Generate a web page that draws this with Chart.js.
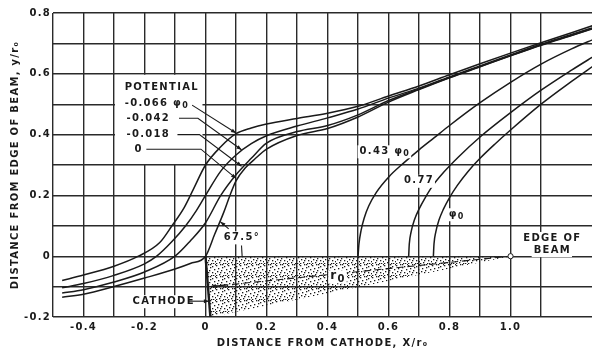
<!DOCTYPE html>
<html lang="en">
<head>
<meta charset="UTF-8">
<title>Equipotentials at the edge of the beam</title>
<script src="https://cdn.jsdelivr.net/npm/chart.js"></script>
<style>
  html, body { margin: 0; padding: 0; background: #fff; }
  canvas { display: block; }
</style>
</head>
<body>
<canvas id="beamChart" width="597" height="352"></canvas>
<script>
// equipotentials left of the cathode (x/r0, y/r0)
const potA_x = [-0.47, -0.4, -0.3, -0.22, -0.15, -0.11, -0.07, -0.04, 0.0, 0.05, 0.1, 0.15, 0.2, 0.3, 0.4, 0.5, 0.6, 0.7, 0.8, 0.9, 1.0, 1.1, 1.2, 1.28];
const potA_y = [-0.08, -0.062, -0.033, 0.0, 0.045, 0.1, 0.16, 0.22, 0.30, 0.36, 0.403, 0.422, 0.435, 0.453, 0.47, 0.493, 0.527, 0.56, 0.597, 0.633, 0.668, 0.702, 0.735, 0.762];

const potB_x = [-0.47, -0.4, -0.3, -0.2, -0.16, -0.11, -0.065, -0.03, 0.0, 0.05, 0.1, 0.15, 0.2, 0.3, 0.4, 0.5, 0.6, 0.7, 0.8, 0.9, 1.0, 1.1, 1.2, 1.28];
const potB_y = [-0.104, -0.09, -0.063, -0.025, 0.0, 0.048, 0.1, 0.15, 0.2, 0.28, 0.333, 0.37, 0.396, 0.428, 0.455, 0.484, 0.52, 0.553, 0.59, 0.626, 0.662, 0.697, 0.729, 0.755];

const potC_x = [-0.47, -0.4, -0.3, -0.2, -0.1, -0.05, 0.0, 0.05, 0.1, 0.15, 0.2, 0.3, 0.4, 0.5, 0.6, 0.7, 0.8, 0.9, 1.0, 1.1, 1.2, 1.28];
const potC_y = [-0.121, -0.11, -0.085, -0.052, 0.0, 0.05, 0.11, 0.2, 0.268, 0.322, 0.372, 0.41, 0.43, 0.465, 0.512, 0.55, 0.588, 0.624, 0.66, 0.695, 0.727, 0.753];

const potD_x = [-0.47, -0.4, -0.3, -0.2, -0.1, -0.05, 0.0, 0.03, 0.06, 0.08, 0.1, 0.13, 0.16, 0.2, 0.3, 0.4, 0.5, 0.6, 0.7, 0.8, 0.9, 1.0, 1.1, 1.2, 1.28];
const potD_y = [-0.135, -0.125, -0.1, -0.072, -0.042, -0.024, 0.0, 0.072, 0.145, 0.2, 0.248, 0.29, 0.318, 0.352, 0.397, 0.42, 0.458, 0.507, 0.548, 0.587, 0.623, 0.659, 0.694, 0.726, 0.752];

// equipotentials inside the beam
const pot043_x = [0.5, 0.503, 0.51, 0.52, 0.535, 0.56, 0.6, 0.65, 0.7, 0.75, 0.8, 0.9, 1.0, 1.1, 1.2, 1.28];
const pot043_y = [0.0, 0.04, 0.085, 0.125, 0.165, 0.21, 0.26, 0.307, 0.35, 0.39, 0.43, 0.505, 0.572, 0.632, 0.682, 0.717];

const pot077_x = [0.666, 0.668, 0.674, 0.685, 0.7, 0.72, 0.745, 0.78, 0.83, 0.9, 1.0, 1.1, 1.2, 1.28];
const pot077_y = [0.0, 0.04, 0.08, 0.12, 0.155, 0.192, 0.232, 0.275, 0.327, 0.392, 0.472, 0.546, 0.612, 0.662];

const pot100_x = [0.747, 0.749, 0.755, 0.765, 0.78, 0.8, 0.825, 0.86, 0.9, 0.95, 1.0, 1.1, 1.2, 1.28];
const pot100_y = [0.0, 0.04, 0.08, 0.118, 0.155, 0.193, 0.232, 0.278, 0.322, 0.37, 0.415, 0.5, 0.575, 0.632];

// cathode, beam radius, shaded beam and beam edge
const cathode_x = [0.0, 0.016];
const cathode_y = [0.0, -0.2];
const radius_x = [0.016, 1.0];
const radius_y = [-0.1, 0.0];
const beam_x = [0.0, 1.0, 0.016, 0.0];
const beam_y = [0.0, 0.0, -0.2, 0.0];
const edge_x = [1.0];
const edge_y = [0.0];

const xTickLabels = ['-0.4', '-0.2', '0', '0.2', '0.4', '0.6', '0.8', '1.0', '1.2'];
const yTickLabels = ['0.8', '0.6', '0.4', '0.2', '0', '-0.2'];

// "_0" marks a subscript zero
const potentialLabels = ['-0.066 φ_0', '-0.042', '-0.018', '0'];
const innerLabels = ['0.43 φ_0', '0.77', 'φ_0'];

const INK = '#1a1a1a';
const GRID = '#2a2a2a';
const FAMILY = '"DejaVu Sans", sans-serif';
const SPACING = '1.3px';

function pts(xs, ys) {
  return xs.map((x, i) => ({ x: x, y: ys[i] }));
}

function curve(xs, ys) {
  return {
    data: pts(xs, ys),
    borderColor: INK,
    borderWidth: 1.5,
    pointRadius: 0,
    cubicInterpolationMode: 'monotone',
    fill: false
  };
}

function tickText(list) {
  return function (value) {
    const hit = list.find(t => Math.abs(parseFloat(t) - value) < 1e-6);
    return hit === undefined ? '' : hit;
  };
}

function keepTenths(scale) {
  scale.ticks = scale.ticks.filter(t => Math.abs(t.value * 10 - Math.round(t.value * 10)) < 1e-6);
}

function makeStipple() {
  const c = document.createElement('canvas');
  c.width = 12;
  c.height = 12;
  const g = c.getContext('2d');
  g.fillStyle = '#1a1a1a';
  const dots = [[0, 1], [4, 0], [8, 2], [11, 0], [2, 4], [6, 3], [10, 5], [1, 7], [5, 6], [8, 8], [11, 9], [3, 10], [7, 11], [0, 11], [9, 11], [4, 8], [6, 0]];
  dots.forEach(d => g.fillRect(d[0], d[1], 1.3, 1.3));
  return g.createPattern(c, 'repeat');
}

// leader lines, in chart units
const leaders = [
  [[-0.044, 0.497], [0.1, 0.405]],
  [[-0.087, 0.454], [-0.025, 0.454], [0.118, 0.35]],
  [[-0.092, 0.40], [-0.02, 0.40], [0.118, 0.296]],
  [[-0.194, 0.352], [-0.015, 0.352], [0.1, 0.256]],
  [[0.076, 0.09], [0.049, 0.113]],
  [[-0.054, -0.148], [0.011, -0.148]],
  [[0.07, -0.094], [0.018, -0.1]]
];
const plainTicks = [
  [[0.118, 0.035], [0.12, 0.0]]
];

const notes = [
  { text: 'POTENTIAL', x: -0.265, y: 0.555 },
  { text: potentialLabels[0], x: -0.265, y: 0.503 },
  { text: potentialLabels[1], x: -0.259, y: 0.454 },
  { text: potentialLabels[2], x: -0.259, y: 0.40 },
  { text: potentialLabels[3], x: -0.233, y: 0.352 },
  { text: innerLabels[0], x: 0.505, y: 0.345, box: true },
  { text: innerLabels[1], x: 0.651, y: 0.248, box: true },
  { text: innerLabels[2], x: 0.797, y: 0.138, box: true },
  { text: '67.5°', x: 0.06, y: 0.062, box: true },
  { text: 'CATHODE', x: -0.239, y: -0.148, box: true },
  { text: 'EDGE OF', x: 1.137, y: 0.06, box: true, center: true },
  { text: 'BEAM', x: 1.137, y: 0.02, box: true, center: true },
  { text: 'r_0', x: 0.409, y: -0.066, box: true, size: 12 }
];

const spacingPlugin = {
  id: 'spacing',
  beforeLayout(chart) { chart.ctx.letterSpacing = SPACING; },
  beforeDraw(chart) { chart.ctx.letterSpacing = SPACING; }
};

function arrowHead(ctx, a, b) {
  const ang = Math.atan2(b[1] - a[1], b[0] - a[0]);
  const len = 5, half = 2;
  ctx.beginPath();
  ctx.moveTo(b[0], b[1]);
  ctx.lineTo(b[0] - len * Math.cos(ang) + half * Math.sin(ang), b[1] - len * Math.sin(ang) - half * Math.cos(ang));
  ctx.lineTo(b[0] - len * Math.cos(ang) - half * Math.sin(ang), b[1] - len * Math.sin(ang) + half * Math.cos(ang));
  ctx.closePath();
  ctx.fill();
}

// text with "_0" style subscripts
function richParts(text) {
  const parts = [];
  text.split('_').forEach((seg, i) => {
    if (i === 0) { parts.push({ s: seg, sub: false }); return; }
    parts.push({ s: seg.charAt(0), sub: true });
    if (seg.length > 1) parts.push({ s: seg.slice(1), sub: false });
  });
  return parts.filter(p => p.s.length);
}

function richWidth(ctx, parts, size) {
  let w = 0;
  parts.forEach(p => {
    ctx.font = 'bold ' + (p.sub ? Math.round(size * 0.8) : size) + 'px ' + FAMILY;
    w += ctx.measureText(p.s).width;
  });
  return w;
}

function drawRich(ctx, parts, x, y, size) {
  let cx = x;
  parts.forEach(p => {
    ctx.font = 'bold ' + (p.sub ? Math.round(size * 0.8) : size) + 'px ' + FAMILY;
    ctx.fillText(p.s, cx, p.sub ? y + size * 0.3 : y);
    cx += ctx.measureText(p.s).width;
  });
}

const notesPlugin = {
  id: 'notes',
  beforeDatasetsDraw(chart) {
    // white panel behind the potential legend
    const { ctx, scales: { x, y } } = chart;
    ctx.save();
    ctx.fillStyle = '#fff';
    const l = x.getPixelForValue(-0.3) + 1, r = x.getPixelForValue(-0.01);
    const t = y.getPixelForValue(0.6) + 1, b = y.getPixelForValue(0.3) - 1;
    ctx.fillRect(l, t, r - l, b - t);
    ctx.restore();
  },
  afterDatasetsDraw(chart) {
    const { ctx, scales: { x, y } } = chart;
    const P = p => [x.getPixelForValue(p[0]), y.getPixelForValue(p[1])];
    ctx.save();
    ctx.letterSpacing = SPACING;
    ctx.textBaseline = 'middle';
    ctx.textAlign = 'left';
    notes.forEach(n => {
      const size = n.size || 10;
      const parts = richParts(n.text);
      const p = P([n.x, n.y]);
      const w = richWidth(ctx, parts, size);
      const left = n.center ? p[0] - w / 2 : p[0];
      if (n.box) {
        ctx.fillStyle = '#fff';
        ctx.fillRect(left - 2, p[1] - 6, w + 3, 13);
      }
      ctx.fillStyle = INK;
      drawRich(ctx, parts, left, p[1], size);
    });
    ctx.strokeStyle = INK;
    ctx.fillStyle = INK;
    ctx.lineWidth = 1.1;
    leaders.forEach(line => {
      const px = line.map(P);
      ctx.beginPath();
      px.forEach((q, i) => (i ? ctx.lineTo(q[0], q[1]) : ctx.moveTo(q[0], q[1])));
      ctx.stroke();
      arrowHead(ctx, px[px.length - 2], px[px.length - 1]);
    });
    plainTicks.forEach(line => {
      const px = line.map(P);
      ctx.beginPath();
      ctx.moveTo(px[0][0], px[0][1]);
      ctx.lineTo(px[1][0], px[1][1]);
      ctx.stroke();
    });
    ctx.restore();
  }
};

const ctx = document.getElementById('beamChart').getContext('2d');

new Chart(ctx, {
  type: 'line',
  data: {
    datasets: [
      {
        data: pts(edge_x, edge_y),
        showLine: false,
        pointRadius: 2.6,
        pointBackgroundColor: '#fff',
        pointBorderColor: INK,
        pointBorderWidth: 1
      },
      curve(potA_x, potA_y),
      curve(potB_x, potB_y),
      curve(potC_x, potC_y),
      curve(potD_x, potD_y),
      curve(pot043_x, pot043_y),
      curve(pot077_x, pot077_y),
      curve(pot100_x, pot100_y),
      {
        data: pts(cathode_x, cathode_y),
        borderColor: INK,
        borderWidth: 2.4,
        pointRadius: 0
      },
      {
        data: pts(radius_x, radius_y),
        borderColor: INK,
        borderWidth: 1.1,
        borderDash: [7, 4],
        pointRadius: 0
      },
      {
        data: pts(beam_x, beam_y),
        borderWidth: 0,
        borderColor: 'rgba(0,0,0,0)',
        backgroundColor: makeStipple(),
        pointRadius: 0,
        fill: 'shape'
      }
    ]
  },
  options: {
    responsive: false,
    animation: false,
    events: [],
    layout: { padding: { top: 13, right: 0, bottom: 0, left: 0 } },
    plugins: {
      legend: { display: false },
      tooltip: { enabled: false }
    },
    scales: {
      x: {
        type: 'linear',
        min: -0.5,
        max: 1.267,
        afterBuildTicks: keepTenths,
        afterFit: s => { s.height = 35; },
        border: { display: false },
        grid: { color: GRID, lineWidth: 1.4, drawTicks: false },
        ticks: {
          stepSize: 0.1,
          autoSkip: false,
          maxRotation: 0,
          padding: 4,
          color: INK,
          font: { family: FAMILY, size: 10, weight: 'bold' },
          callback: tickText(xTickLabels)
        },
        title: {
          display: true,
          text: 'DISTANCE FROM CATHODE, X/r₀',
          color: INK,
          font: { family: FAMILY, size: 10, weight: 'bold' },
          padding: { top: 0, bottom: 3 }
        }
      },
      y: {
        type: 'linear',
        min: -0.2,
        max: 0.8,
        afterBuildTicks: keepTenths,
        afterFit: s => { s.width = 53; },
        border: { display: false },
        grid: { color: GRID, lineWidth: 1.4, drawTicks: false },
        ticks: {
          stepSize: 0.1,
          autoSkip: false,
          padding: 2,
          color: INK,
          font: { family: FAMILY, size: 10, weight: 'bold' },
          callback: tickText(yTickLabels)
        },
        title: {
          display: true,
          text: 'DISTANCE FROM EDGE OF BEAM, y/r₀',
          color: INK,
          font: { family: FAMILY, size: 10, weight: 'bold' },
          padding: { top: 9, bottom: 0 }
        }
      }
    }
  },
  plugins: [spacingPlugin, notesPlugin]
});
</script>
</body>
</html>
